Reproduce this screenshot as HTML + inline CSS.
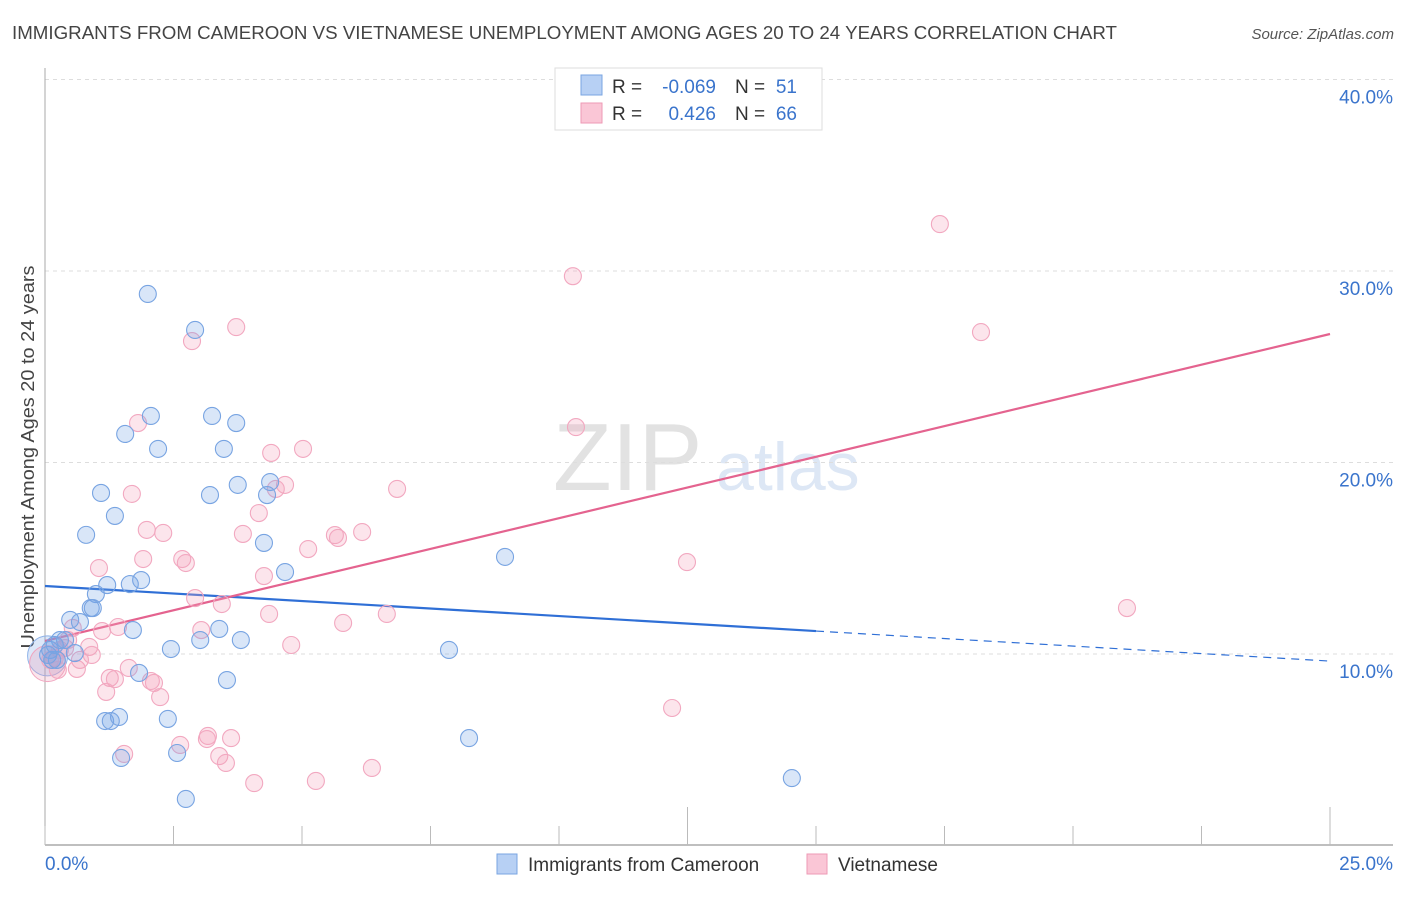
<!DOCTYPE html>
<html><head><meta charset="utf-8"><style>
body{margin:0;background:#fff;font-family:"Liberation Sans",sans-serif;}
svg text{font-family:"Liberation Sans",sans-serif;}
</style></head><body>
<svg id="chart" width="1406" height="892" xmlns="http://www.w3.org/2000/svg">
<text x="12" y="39" font-size="18.5" fill="#444" textLength="1105" lengthAdjust="spacingAndGlyphs">IMMIGRANTS FROM CAMEROON VS VIETNAMESE UNEMPLOYMENT AMONG AGES 20 TO 24 YEARS CORRELATION CHART</text>
<text x="1394" y="39" font-size="15" fill="#555" text-anchor="end" font-style="italic">Source: ZipAtlas.com</text>
<g>
<text x="553" y="490" font-size="96" fill="#e2e2e2" font-family="Liberation Serif, serif">ZIP</text>
<text x="716" y="490" font-size="68" fill="#dde7f5">atlas</text>
</g>
<text transform="translate(34,457) rotate(-90)" font-size="18.5" fill="#444" text-anchor="middle" textLength="383" lengthAdjust="spacingAndGlyphs">Unemployment Among Ages 20 to 24 years</text>
<g id="grid"></g><g id="axes"></g><g id="lines"></g><g id="pts"></g>
<g>
<rect x="555" y="68" width="267" height="62" fill="#fff" stroke="#ddd"/>
<rect x="581" y="75" width="21" height="20" fill="#b7d0f4" stroke="#7aa5e2"/>
<rect x="581" y="103" width="21" height="20" fill="#fac6d6" stroke="#ee9ab5"/>
<text x="612" y="93" font-size="19" fill="#333">R = </text><text x="716" y="93" font-size="19" fill="#3a74cc" text-anchor="end">-0.069</text>
<text x="735" y="93" font-size="19" fill="#333">N = </text><text x="797" y="93" font-size="19" fill="#3a74cc" text-anchor="end">51</text>
<text x="612" y="120" font-size="19" fill="#333">R = </text><text x="716" y="120" font-size="19" fill="#3a74cc" text-anchor="end">0.426</text>
<text x="735" y="120" font-size="19" fill="#333">N = </text><text x="797" y="120" font-size="19" fill="#3a74cc" text-anchor="end">66</text>
</g>
<g>
<rect x="497" y="854" width="20" height="20" fill="#b7d0f4" stroke="#7aa5e2"/>
<text x="528" y="871" font-size="19" fill="#333">Immigrants from Cameroon</text>
<rect x="807" y="854" width="20" height="20" fill="#fac6d6" stroke="#ee9ab5"/>
<text x="838" y="871" font-size="19" fill="#333">Vietnamese</text>
</g>
</svg>
<script>
const blueX=[2.00,2.92,2.06,3.25,1.56,3.72,2.20,3.48,1.09,3.21,3.75,4.38,4.32,1.36,0.80,4.26,8.95,4.67,1.87,1.21,1.65,0.99,0.89,0.49,0.68,1.71,3.39,0.29,3.02,3.81,2.45,7.86,0.23,0.58,1.83,3.54,1.17,1.28,1.44,2.39,8.25,1.48,2.57,14.53,2.74,0.10,0.14,0.39,0.06,0.19,0.93];
const blueY=[28.80,26.92,22.43,22.43,21.49,22.06,20.71,20.71,18.41,18.30,18.83,18.98,18.30,17.21,16.22,15.80,15.07,14.28,13.86,13.60,13.65,13.13,12.40,11.78,11.67,11.25,11.31,10.73,10.73,10.73,10.26,10.21,9.69,10.05,9.01,8.64,6.50,6.50,6.71,6.61,5.61,4.57,4.83,3.52,2.43,10.21,9.69,10.73,9.95,10.47,12.40];
const pinkX=[17.41,10.27,3.72,18.21,2.86,1.81,10.33,5.02,4.40,4.67,4.49,6.85,1.69,1.98,2.30,4.16,3.85,5.64,5.70,6.17,5.12,2.67,2.74,1.91,1.05,4.26,12.49,21.05,2.92,3.44,4.36,6.65,5.80,0.54,1.11,1.42,3.04,4.79,0.86,0.39,0.19,0.91,0.62,1.63,1.26,1.36,2.06,2.12,1.19,2.24,12.20,3.17,3.15,2.63,3.62,3.39,3.52,1.54,5.27,4.07,6.36,0.29,0.10,0.45,0.68,0.25];
const pinkY=[32.45,29.73,27.07,26.81,26.34,22.06,21.85,20.71,20.50,18.83,18.62,18.62,18.36,16.48,16.32,17.36,16.27,16.21,16.06,16.37,15.48,14.96,14.75,14.96,14.49,14.07,14.80,12.40,12.92,12.61,12.09,12.09,11.62,11.36,11.20,11.41,11.25,10.47,10.37,10.31,9.79,9.95,9.22,9.27,8.75,8.69,8.59,8.49,8.02,7.75,7.18,5.72,5.56,5.25,5.61,4.67,4.31,4.78,3.37,3.26,4.05,10.21,9.69,10.73,9.69,9.17];
const blueTrend=[13.55,9.63]; const blueSolidEnd=15.0;
const pinkTrend=[10.68,26.71];
const yTicks=[10,20,30,40]; const yTickLabels=["10.0%","20.0%","30.0%","40.0%"];
const xTicks=[0,2.5,5,7.5,10,12.5,15,17.5,20,22.5,25]; const xTickLabels=["0.0%","25.0%"];
const NS="http://www.w3.org/2000/svg";
const sx=v=>45+v*51.4, sy=v=>845.5-v*19.15;
function mk(tag,attrs,parent){const e=document.createElementNS(NS,tag);for(const k in attrs)e.setAttribute(k,attrs[k]);document.getElementById(parent).appendChild(e);return e;}
yTicks.forEach((t,i)=>{
 const l=mk('line',{x1:45,x2:1393,y1:sy(t),y2:sy(t),stroke:'#ddd','stroke-dasharray':'4,4'},'grid');
 
 
 const tx=mk('text',{x:1393,y:sy(t)+24,'font-size':19,fill:'#3a74cc','text-anchor':'end'},'grid');tx.textContent=yTickLabels[i];
 
 
});
const ax=mk('line',{x1:45,x2:45,y1:68,y2:845,stroke:'#aaa'},'axes');


const bx=mk('line',{x1:45,x2:1393,y1:845,y2:845,stroke:'#aaa','stroke-width':1.5},'axes');


xTicks.forEach((t,i)=>{
 const long=(i==5||i==10);
 const l=mk('line',{x1:sx(t),x2:sx(t),y1:long?807:826,y2:845,stroke:'#bbb'},'axes');
 
 
});
const xl0=mk('text',{x:45,y:870,'font-size':19,fill:'#3a74cc'},'axes');xl0.textContent=xTickLabels[0];


const xl1=mk('text',{x:1393,y:870,'font-size':19,fill:'#3a74cc','text-anchor':'end'},'axes');xl1.textContent=xTickLabels[1];


const bb=mk('circle',{cx:sx(0.05),cy:sy(9.9),r:20,fill:'rgba(120,165,230,0.25)',stroke:'#8fb3e8'},'pts');


const pb=mk('circle',{cx:sx(0.05),cy:sy(9.5),r:18,fill:'rgba(240,150,180,0.25)',stroke:'#f0a5bf'},'pts');


pinkX.forEach((x,i)=>{const c=mk('circle',{cx:sx(x),cy:sy(pinkY[i]),r:8.5,fill:'rgba(244,160,188,0.28)',stroke:'#f2a8c0','stroke-width':1.1},'pts');
 
 });
blueX.forEach((x,i)=>{const c=mk('circle',{cx:sx(x),cy:sy(blueY[i]),r:8.5,fill:'rgba(120,165,230,0.28)',stroke:'#78a4e2','stroke-width':1.1},'pts');
 
 });
const bt=v=>blueTrend[0]+(blueTrend[1]-blueTrend[0])*v/25;
const l1=mk('line',{x1:sx(0),y1:sy(bt(0)),x2:sx(blueSolidEnd),y2:sy(bt(blueSolidEnd)),stroke:'#2f6fd6','stroke-width':2.2},'lines');


const l2=mk('line',{x1:sx(blueSolidEnd),y1:sy(bt(blueSolidEnd)),x2:sx(25),y2:sy(bt(25)),stroke:'#2f6fd6','stroke-width':1.2,'stroke-dasharray':'8,6'},'lines');


const l3=mk('line',{x1:sx(0),y1:sy(pinkTrend[0]),x2:sx(25),y2:sy(pinkTrend[1]),stroke:'#e4638f','stroke-width':2.2},'lines');


</script>
</body></html>
